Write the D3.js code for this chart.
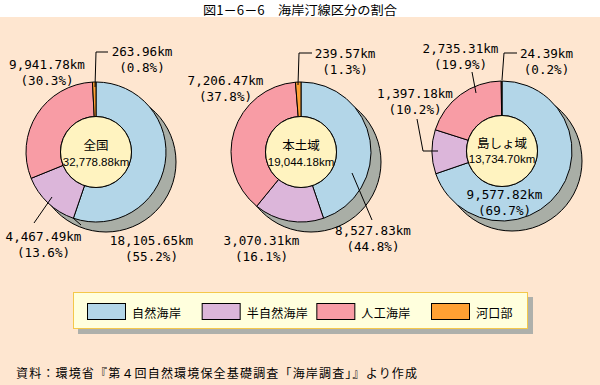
<!DOCTYPE html>
<html>
<head>
<meta charset="utf-8">
<script src="https://cdn.jsdelivr.net/npm/d3@7"></script>
<style>
  html, body { margin: 0; padding: 0; background: #fee6d0; }
  svg { display: block; }
</style>
</head>
<body>
<svg id="chart" width="600" height="385"></svg>
<script>
const categories = ['自然海岸', '半自然海岸', '人工海岸', '河口部'];
const regions = ['全国', '本土域', '島しょ域'];
const totals = ['32,778.88km', '19,044.18km', '13,734.70km'];

// km per region (全国, 本土域, 島しょ域)
const natural     = [18105.65, 8527.83, 9577.82];
const seminatural = [4467.49, 3070.31, 1397.18];
const artificial  = [9941.78, 7206.47, 2735.31];
const estuary     = [263.96, 239.57, 24.39];

const pctNatural     = [55.2, 44.8, 69.7];
const pctSeminatural = [13.6, 16.1, 10.2];
const pctArtificial  = [30.3, 37.8, 19.9];
const pctEstuary     = [0.8, 1.3, 0.2];

const colors = ['#b3d6e8', '#dcb6da', '#f89ca5', '#ffa033'];

const svg = d3.select('#chart');
const width = +svg.attr('width');

const labelFont = '"DejaVu Sans Mono", monospace';
const jpFont = '"Noto Sans CJK JP", sans-serif';

// title strip
svg.append('rect').attr('x', 0).attr('y', 0).attr('width', width).attr('height', 17).attr('fill', '#fff');
svg.append('text')
  .attr('x', 300).attr('y', 9)
  .attr('text-anchor', 'middle')
  .attr('dominant-baseline', 'central')
  .attr('textLength', 194)
  .attr('lengthAdjust', 'spacingAndGlyphs')
  .style('font-family', jpFont).style('font-size', '12.5px')
  .text('図1－6－6　海岸汀線区分の割合');

const fmt = d3.format(',.2f');
const R = 70, r = 35.5;
const arc = d3.arc().innerRadius(r).outerRadius(R);
const pie = d3.pie().sort(null).value(d => d.v);

// layout per chart: centre, label centres [x, y of first line] and leader polylines (relative to centre)
const layout = [
  { cx: 96, cy: 152,
    labels: [[55.5, 88], [-52.5, 84], [-49, -88], [46, -101]],
    leaders: [[[-23, 66], [-15, 73]], [[-62, 71], [-44, 45]], null, [[12, -100], [0, -100], [-1, -65]]] },
  { cx: 301, cy: 152,
    labels: [[72, 78], [-39.5, 88], [-75.5, -72], [44, -99]],
    leaders: [[[51, 21], [71, 68]], null, null, [[11, -99], [-2, -99], [-3, -67]]] },
  { cx: 502, cy: 151,
    labels: [[2.5, 43], [-87, -58], [-41.5, -103], [44.5, -98]],
    leaders: [null, [[-85, -32], [-79, 0], [-64, 0]], [[-30, -79], [-26, -58]], [[15, -98], [2, -98], [0, -71]]] }
];

regions.forEach((name, i) => {
  const L = layout[i];
  const data = [
    { v: natural[i], p: pctNatural[i] },
    { v: seminatural[i], p: pctSeminatural[i] },
    { v: artificial[i], p: pctArtificial[i] },
    { v: estuary[i], p: pctEstuary[i] }
  ];
  const g = svg.append('g').attr('transform', `translate(${L.cx},${L.cy})`);

  // drop shadow
  g.append('circle').attr('cx', 10).attr('cy', 10).attr('r', R)
    .attr('fill', '#a9aea6').attr('stroke', '#000').attr('stroke-width', 1);

  g.selectAll('path.slice')
    .data(pie(data))
    .enter().append('path')
    .attr('class', 'slice')
    .attr('d', arc)
    .attr('fill', (d, j) => colors[j])
    .attr('stroke', '#000')
    .attr('stroke-width', 1);

  g.append('circle').attr('r', r)
    .attr('fill', '#fff3c0').attr('stroke', '#000').attr('stroke-width', 1);

  g.append('text').attr('y', i === 2 ? -9 : -8)
    .attr('text-anchor', 'middle').attr('dominant-baseline', 'central')
    .style('font-family', jpFont).style('font-size', '12.5px')
    .text(name);
  g.append('text').attr('y', i === 2 ? 8 : 10)
    .attr('text-anchor', 'middle').attr('dominant-baseline', 'central')
    .style('font-family', '"Liberation Sans", sans-serif').style('font-size', '11.5px')
    .text(totals[i]);

  // leaders
  L.leaders.forEach(pts => {
    if (!pts) return;
    g.append('path')
      .attr('d', d3.line()(pts))
      .attr('fill', 'none').attr('stroke', '#000').attr('stroke-width', 1);
  });

  // value labels
  data.forEach((d, j) => {
    const [lx, ly] = L.labels[j];
    const t = g.append('text')
      .attr('text-anchor', 'middle')
      .style('font-family', labelFont).style('font-size', '12.6px');
    t.append('tspan').attr('x', lx).attr('y', ly).attr('dominant-baseline', 'central')
      .text(fmt(d.v) + 'km');
    t.append('tspan').attr('x', lx).attr('y', ly + 16).attr('dominant-baseline', 'central')
      .text('(' + d.p + '%)');
  });
});

// legend
const lg = svg.append('g');
lg.append('rect').attr('x', 78).attr('y', 297).attr('width', 455).attr('height', 37).attr('fill', '#aeb0ab');
lg.append('rect').attr('x', 73.5).attr('y', 292.5).attr('width', 454).attr('height', 36)
  .attr('fill', '#ffffdd').attr('stroke', '#f4c84a').attr('stroke-width', 1);

const legendX = d3.scalePoint().domain(categories).range([87, 431]);
const item = lg.selectAll('g.item').data(categories).enter().append('g')
  .attr('class', 'item')
  .attr('transform', d => `translate(${legendX(d)},303)`);
item.append('rect').attr('x', 0.5).attr('y', 0.5).attr('width', 38).attr('height', 16)
  .attr('fill', (d, j) => colors[j]).attr('stroke', '#000').attr('stroke-width', 1);
item.append('text').attr('x', 45).attr('y', 9)
  .attr('dominant-baseline', 'central')
  .style('font-family', jpFont).style('font-size', '12px').style('letter-spacing', '0.3px')
  .text(d => d);

// source
svg.append('text')
  .attr('x', 16).attr('y', 372)
  .attr('dominant-baseline', 'central')
  .attr('textLength', 401)
  .attr('lengthAdjust', 'spacing')
  .style('font-family', jpFont).style('font-size', '12px')
  .text('資料：環境省『第４回自然環境保全基礎調査「海岸調査」』より作成');
</script>
</body>
</html>
